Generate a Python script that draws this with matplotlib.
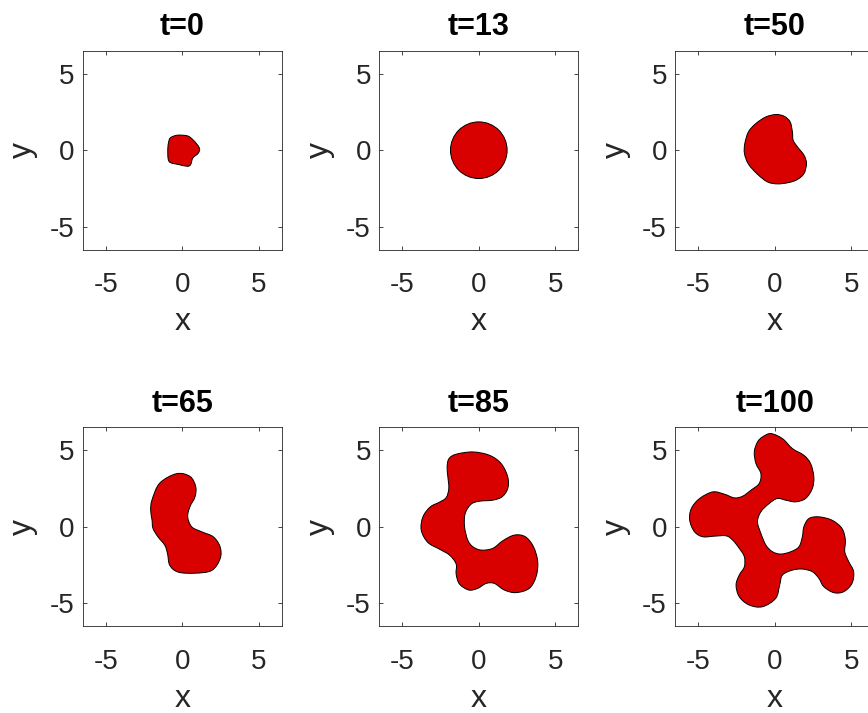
import numpy as np
import matplotlib
matplotlib.use("Agg")
import matplotlib.pyplot as plt
from matplotlib.path import Path
from matplotlib.patches import PathPatch, Circle

plt.rcParams['font.family'] = ['Liberation Sans', 'DejaVu Sans']

# Snapshot times and axis settings
times = [0, 13, 50, 65, 85, 100]
axis_lim = 6.5
tick_values = [-5, 0, 5]

# Interface boundary at each snapshot (closed curves, data units)
x_t0 = [-0.77, -0.33, 0.33, 0.66, 0.98, 1.14, 1.03, 0.70, 0.55, 0.33, -0.22, -0.77, -0.92, -0.94, -0.88]
y_t0 = [0.81, 0.98, 0.94, 0.72, 0.37, 0.07, -0.22, -0.50, -0.94, -1.05, -0.94, -0.81, -0.55, 0.11, 0.55]

r_t13 = 1.85

x_t50 = [0.07, 0.61, 1.00, 1.15, 1.20, 1.48, 1.91, 2.07, 1.91, 1.48, 0.93, 0.17, -0.48, -1.13, -1.72, -1.98, -1.96, -1.72, -1.24, -0.59]
y_t50 = [2.33, 2.22, 1.85, 1.20, 0.65, 0.22, -0.33, -0.87, -1.52, -1.91, -2.11, -2.20, -2.07, -1.57, -0.91, -0.22, 0.43, 1.20, 1.74, 2.17]

x_t65 = [-0.37, 0.51, 0.88, 0.84, 0.51, 0.36, 0.62, 1.28, 2.04, 2.48, 2.48, 1.93, 0.84, -0.26, -0.81, -0.96,
         -1.14, -1.58, -1.91, -1.97, -2.06, -1.97, -1.47]
y_t65 = [3.47, 3.29, 2.63, 1.97, 1.32, 0.66, 0.00, -0.33, -0.66, -1.32, -2.08, -2.85, -3.03, -2.96, -2.52, -1.75,
         -1.20, -0.66, -0.10, 0.44, 1.10, 1.76, 2.85]

x_t85 = [-2.07, -1.95, -1.48, -0.39, 0.70, 1.46, 1.89, 1.89, 1.52, 0.91, 0.04, -0.50, -0.89, -0.93, -0.72, -0.39, 0.15, 0.91, 1.57,
         2.33, 3.04, 3.57, 3.85, 3.74, 3.30, 2.43, 1.67, 1.02, 0.48, -0.07, -0.65, -1.26, -1.48, -1.48, -1.91, -2.57, -3.33,
         -3.76, -3.65, -3.17, -2.57, -2.13, -1.96, -2.02]
y_t85 = [3.91, 4.45, 4.74, 4.89, 4.67, 4.13, 3.26, 2.50, 1.96, 1.74, 1.67, 1.48, 0.87, 0.00, -0.87, -1.30, -1.52, -1.41, -0.91,
         -0.54, -0.65, -1.30, -2.28, -3.26, -4.02, -4.30, -4.13, -3.70, -3.70, -4.02, -4.13, -3.74, -3.09, -2.43, -1.85, -1.46, -1.02,
         -0.22, 0.65, 1.30, 1.61, 1.91, 2.50, 3.26]

x_t100 = [-1.13, -0.80, -0.26, 0.50, 1.15, 1.90, 2.34, 2.55, 2.45, 2.01, 1.36, 0.71, 0.17, -0.37, -0.91, -1.13, -0.91, -0.58,
          -0.15, 0.39, 1.04, 1.58, 1.80, 1.90, 2.23, 2.88, 3.74, 4.39, 4.61, 4.57, 4.83, 5.15, 5.04, 4.50, 3.85, 3.20, 2.88,
          2.45, 1.80, 1.15, 0.50, 0.32, 0.06, -0.80, -1.67, -2.32, -2.53, -2.32, -1.99, -1.99, -2.32, -2.75, -3.18, -3.94,
          -4.70, -5.24, -5.56, -5.45, -4.91, -4.05, -3.29, -2.64, -2.10, -1.56, -1.02, -0.91, -1.23, -1.34]
y_t100 = [5.54, 5.87, 6.09, 5.76, 5.11, 4.67, 4.13, 3.26, 2.50, 1.85, 1.63, 1.74, 1.85, 1.52, 0.98, 0.33, -0.43, -1.20,
          -1.63, -1.78, -1.63, -1.30, -0.65, 0.00, 0.54, 0.65, 0.43, -0.11, -0.87, -1.63, -2.28, -2.93, -3.70, -4.24, -4.30,
          -3.91, -3.37, -2.93, -2.76, -2.83, -3.15, -3.80, -4.67, -5.22, -5.11, -4.57, -3.80, -3.15, -2.61, -1.96, -1.41,
          -0.87, -0.59, -0.61, -0.65, -0.33, 0.43, 1.20, 1.85, 2.28, 2.13, 1.89, 2.00, 2.39, 2.83, 3.48, 4.13, 4.89]

FILL = '#d90000'


def smooth_closed_path(xs, ys):
    """Closed Catmull-Rom curve through the given vertices, as cubic Bezier segments."""
    p = np.column_stack([xs, ys]).astype(float)
    n = len(p)
    verts = [p[0]]
    codes = [Path.MOVETO]
    for i in range(n):
        p0, p1, p2, p3 = p[i - 1], p[i], p[(i + 1) % n], p[(i + 2) % n]
        verts += [p1 + (p2 - p0) / 6.0, p2 - (p3 - p1) / 6.0, p2]
        codes += [Path.CURVE4] * 3
    verts.append(p[0])
    codes.append(Path.CLOSEPOLY)
    return Path(verts, codes)


shapes = {
    0: (x_t0, y_t0),
    50: (x_t50, y_t50),
    65: (x_t65, y_t65),
    85: (x_t85, y_t85),
    100: (x_t100, y_t100),
}

W, H = 868, 713
fig = plt.figure(figsize=(W / 100, H / 100), dpi=100)

col_left = [82.7, 379.3, 675.3]
row_top = [50.7, 427.3]
size = 199.0

for k, t in enumerate(times):
    r, c = divmod(k, 3)
    left = col_left[c] / W
    bottom = 1 - (row_top[r] + size) / H
    ax = fig.add_axes([left, bottom, size / W, size / H])
    if t == 13:
        ax.add_patch(Circle((0, 0), r_t13, facecolor=FILL, edgecolor='black', linewidth=0.7))
    else:
        xs, ys = shapes[t]
        ax.add_patch(PathPatch(smooth_closed_path(xs, ys), facecolor=FILL,
                               edgecolor='black', linewidth=0.7))
    ax.set_xlim(-axis_lim, axis_lim)
    ax.set_ylim(-axis_lim, axis_lim)
    ax.set_xticks(tick_values)
    ax.set_yticks(tick_values)
    ax.set_xticklabels([str(v) for v in tick_values])
    ax.set_yticklabels([str(v) for v in tick_values])
    ax.tick_params(direction='in', length=3, width=0.6, color='#262626',
                   top=True, right=True, labelsize=20, labelcolor='#262626')
    ax.tick_params(axis='x', pad=16)
    ax.tick_params(axis='y', pad=6)
    for sp in ax.spines.values():
        sp.set_color('#262626')
        sp.set_linewidth(0.6)
    ax.set_title(f't={t}', fontsize=22, fontweight='bold', pad=11)
    ax.set_xlabel('x', fontsize=23, color='#262626')
    ax.set_ylabel('y', fontsize=23, color='#262626')
    ax.xaxis.set_label_coords(0.5, -0.405)
    ax.xaxis.label.set_va('baseline')
    ax.yaxis.set_label_coords(-0.30, 0.5)
    ax.yaxis.label.set_va('center')

fig.savefig('out.png', dpi=100)
